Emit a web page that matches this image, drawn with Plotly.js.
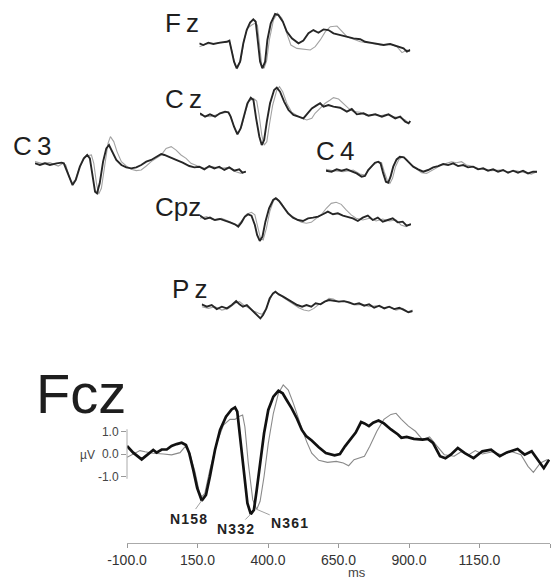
<!DOCTYPE html>
<html>
<head>
<meta charset="utf-8">
<script src="https://cdn.plot.ly/plotly-3.0.1.min.js"></script>
<style>html,body{margin:0;padding:0;background:#fff}#chart{width:553px;height:579px}</style>
</head>
<body>
<div id="chart"></div>
<script>
// ---------- DATA (time in ms, amplitude in µV) ----------
const electrodeNames = ["Fz", "Cz", "C3", "C4", "Cpz", "Pz", "Fcz"];

const fczBlackT = [-100,-78,-48,-24,-7,5,23,41,58,76,94,109,121,135,149,165,180,194,212,230,251,271,283,291,301,312,327,339,350,360,372,386,401,419,437,452,466,484,502,520,535,555,580,605,636,655,673,692,711,730,742,758,773,792,811,836,861,873,892,917,948,967,985,1010,1029,1048,1073,1098,1129,1160,1191,1222,1247,1285,1310,1335,1360,1378,1397];
const fczBlackV = [0.36,0.06,-0.24,0.03,0.18,0.06,0.2,0.2,0.36,0.44,0.5,0.4,0.03,-0.71,-1.52,-2.07,-1.82,-1.0,0.18,1.07,1.66,1.98,2.07,1.88,0.77,-0.71,-2.19,-2.67,-2.49,-1.6,-0.41,0.92,1.96,2.55,2.81,2.7,2.4,2.03,1.59,1.07,0.8,0.6,0.3,0.04,-0.06,0.0,0.34,0.67,0.95,1.42,1.36,1.24,1.39,1.49,1.36,1.09,0.87,0.72,0.76,0.67,0.64,0.67,0.49,-0.1,-0.19,-0.03,0.27,0.04,-0.18,0.12,0.19,-0.1,0.07,0.22,-0.03,0.12,-0.33,-0.63,-0.25];
const fczGreyT = [-100,-78,-54,-36,-7,29,58,88,106,121,141,156,165,176,194,218,242,265,283,295,310,318,330,346,360,372,386,401,419,437,454,472,490,514,537,555,580,611,642,667,686,705,723,742,761,786,811,836,854,873,898,923,948,973,998,1025,1060,1085,1110,1135,1160,1197,1230,1260,1297,1322,1341,1366,1391];
const fczGreyV = [-0.15,0.0,0.15,0.1,0.03,0.0,-0.04,0.06,0.33,0.1,-0.78,-1.67,-1.9,-1.75,-0.7,0.47,1.29,1.54,1.54,1.66,1.73,1.21,-0.4,-2.04,-2.46,-2.1,-1.0,0.47,1.81,2.7,3.07,2.84,2.25,1.36,0.55,0.04,-0.28,-0.37,-0.33,-0.4,-0.52,-0.25,-0.18,-0.1,0.34,1.01,1.54,1.76,1.81,1.54,1.24,1.01,0.64,0.76,0.37,-0.03,-0.1,0.1,-0.05,0.15,0.0,0.1,-0.05,0.12,-0.03,-0.55,-0.82,-0.4,-0.25];

const fzBlackT = [-100,-72,-36,0,47,95,114,131,147,166,190,213,237,261,284,301,316,332,348,368,384,408,439,462,494,522,558,605,640,676,711,747,783,818,854,901,949,996,1044,1079,1115,1163,1210,1257,1305,1352,1376,1400];
const fzBlackV = [0.06,-0.09,0.12,0,0.12,0.2,0.3,-0.53,-1.57,-2.16,-1.57,0.06,1.24,1.9,2.2,1.98,0.36,-1.57,-2.16,-1.57,0.36,1.84,2.67,2.58,1.98,1.1,0.5,0.06,0.3,0.95,1.24,1.0,1.3,1.24,0.95,0.8,0.65,0.5,0.42,0.2,0.12,0,-0.09,0,-0.18,-0.39,-0.68,-0.53];
const fzGreyT = [-100,-48,24,95,114,133,154,171,195,218,242,273,296,313,327,344,360,379,398,427,456,487,522,551,594,641,689,724,760,796,831,879,915,950,998,1045,1116,1187,1258,1305,1341,1376,1400];
const fzGreyV = [-0.24,0,0.06,0.12,0.2,-0.68,-1.87,-2.16,-1.48,0.36,1.39,1.69,1.84,1.69,-0.24,-1.87,-2.16,-1.48,0.36,2.13,2.73,2.28,0.95,-0.09,-0.39,-0.47,-0.53,-0.24,0.36,1.1,1.54,1.6,1.1,0.65,0.42,0.2,0.06,-0.09,0,-0.24,-0.77,-0.53,-0.68];

const czBlackT = [-100,-64,-29,7,42,78,102,118,142,166,189,213,237,261,280,299,322,339,356,375,398,427,446,469,498,529,564,600,635,659,695,726,754,778,813,849,896,944,979,1015,1062,1098,1146,1193,1240,1288,1323,1359,1383,1395];
const czBlackV = [0.15,-0.15,0.06,-0.15,0.15,0.3,0.24,-0.15,-1.04,-1.72,-1.19,0,1.04,1.54,1.33,-0.3,-1.93,-2.67,-2.22,-0.59,1.04,2.22,2.43,2.07,1.19,0.44,0,-0.15,-0.3,0.06,0.59,0.83,1.04,0.74,0.89,0.74,0.65,0.3,0.53,0.06,0.15,-0.06,0.06,-0.15,0.06,-0.3,-0.15,-0.59,-0.74,-0.53];
const czGreyT = [-100,-29,30,90,109,133,156,175,199,223,246,280,303,320,339,356,375,393,417,446,465,488,517,552,588,624,659,695,718,754,790,825,849,885,920,956,991,1039,1086,1134,1181,1229,1276,1323,1359,1383,1395];
const czGreyV = [0,-0.15,0.06,0.24,0.15,-0.74,-1.48,-1.54,-0.89,0.3,1.19,1.48,1.24,0,-1.78,-2.67,-2.37,-0.89,0.89,2.22,2.52,2.07,1.04,0.24,-0.06,-0.3,-0.44,-0.3,0.15,0.59,1.04,1.33,1.54,1.42,1.04,0.59,0.3,0.24,-0.06,0.06,-0.06,0.06,-0.15,-0.24,-0.44,-0.74,-0.59];

const c3BlackT = [-100,-65,-29,6,53,89,105,124,148,167,190,219,247,271,290,308,327,341,360,384,407,426,450,478,514,549,584,620,655,691,726,761,797,820,856,903,950,997,1033,1068,1104,1139,1175,1210,1246,1281,1316,1352,1375,1399];
const c3BlackV = [0.06,-0.09,0.06,-0.09,0.06,0.12,0.06,-0.53,-1.42,-1.87,-1.42,-0.24,0.5,0.8,0.5,-1.13,-2.46,-2.61,-1.72,0.21,1.39,1.69,1.1,0.36,-0.09,-0.3,-0.39,-0.3,-0.09,0.21,0.36,0.59,0.89,0.8,0.59,0.36,0.12,-0.18,-0.3,-0.24,-0.47,-0.18,-0.39,-0.24,-0.53,-0.3,-0.59,-0.47,-0.77,-0.68];
const c3GreyT = [-100,-53,6,65,101,119,143,162,186,214,242,266,301,318,337,353,372,396,419,436,460,483,514,549,584,620,655,691,726,761,797,832,868,903,938,974,1009,1056,1104,1163,1222,1281,1328,1364,1399];
const c3GreyV = [0.21,0.06,0.12,-0.18,0.06,-0.09,-1.13,-1.72,-1.42,-0.39,0.36,0.71,0.8,0.06,-1.72,-2.67,-2.16,-0.24,1.84,2.43,1.99,1.1,0.21,-0.18,-0.47,-0.59,-0.53,-0.18,0.21,0.5,0.8,1.39,1.54,1.24,0.8,0.5,0.06,-0.18,-0.39,-0.24,-0.39,-0.3,-0.68,-0.83,-0.68];

const c4BlackT = [-100,-60,-24,11,47,82,118,153,177,200,224,248,271,288,307,326,342,359,378,402,425,454,484,520,555,591,626,662,697,733,768,804,839,875,910,946,981,1017,1052,1088,1123,1159,1194,1230,1265,1301,1336,1372,1400];
const c4BlackV = [0,-0.09,0.12,0,0.12,-0.09,-0.24,-0.53,-0.47,0.06,0.41,0.71,0.8,0.65,-0.24,-0.98,-1.07,-0.53,0.36,1.0,1.24,1.19,0.8,0.36,0.12,-0.09,0.06,0.3,0.41,0.59,0.5,0.65,0.41,0.5,0.3,0.36,0.12,0.21,0,0.12,-0.09,0.06,-0.18,0,-0.18,0,-0.24,-0.09,-0.09];
const c4GreyT = [-100,-48,23,94,141,177,207,236,271,295,314,335,354,373,394,418,444,473,508,544,579,615,650,686,721,757,792,827,863,898,934,981,1029,1076,1135,1194,1253,1312,1360,1400];
const c4GreyV = [0.12,0,-0.09,0.06,-0.3,-0.39,0.12,0.5,0.8,0.71,-0.09,-0.83,-1.13,-0.68,0.36,1.0,1.24,1.0,0.5,0.12,-0.18,-0.24,0,0.21,0.5,0.65,0.8,0.71,0.8,0.5,0.41,0.21,0.12,0,0.06,-0.09,0,-0.18,-0.3,-0.09];

const cpzBlackT = [-100,-65,-29,6,42,77,113,148,172,195,219,242,266,290,306,325,344,365,391,420,439,462,491,526,561,597,632,668,703,739,774,809,845,880,916,951,987,1022,1057,1093,1128,1164,1199,1235,1270,1305,1341,1369,1400];
const cpzBlackV = [0.24,-0.06,0.06,-0.15,-0.06,-0.24,-0.36,-0.53,-0.74,-0.36,0.15,0.36,0.24,-0.59,-1.48,-2.01,-1.63,-0.3,0.89,1.63,1.78,1.54,1.04,0.44,0.06,-0.15,-0.24,0,0.06,0.15,0.36,0.59,0.36,0.44,0.24,0.15,0,-0.24,0.06,0.24,-0.15,0.06,-0.3,-0.15,0,-0.36,-0.3,-0.65,-0.53];
const cpzGreyT = [-100,-53,-6,54,113,165,195,231,266,290,313,330,349,372,396,424,448,479,514,550,585,620,656,691,727,762,798,833,868,904,939,975,1010,1057,1105,1152,1199,1246,1294,1329,1364,1400];
const cpzGreyV = [0,0.15,-0.15,0,-0.3,-0.65,-0.24,0.36,0.53,0.3,-0.89,-1.78,-1.93,-0.89,0.59,1.63,1.72,1.33,0.65,0.24,-0.06,-0.36,-0.44,-0.36,0,0.3,0.89,1.33,1.42,1.24,0.74,0.3,0,-0.15,0,-0.24,-0.06,-0.24,-0.15,-0.59,-0.74,-0.53];

const pzBlackT = [-100,-64,-29,7,43,79,114,145,169,193,221,245,274,298,317,336,360,383,407,424,448,479,507,543,579,614,645,679,710,745,774,805,840,876,912,948,983,1019,1055,1090,1126,1162,1198,1233,1269,1305,1340,1369,1400];
const pzBlackV = [0.12,-0.09,0.06,-0.3,-0.09,-0.24,0.06,0.41,0.12,-0.09,0.06,-0.24,-0.59,-0.83,-1.13,-0.83,-0.24,0.65,1.1,1.24,1.0,0.8,0.59,0.36,0.06,-0.09,0.06,-0.09,0.21,0.12,0.36,0.5,0.41,0.36,0.41,0.3,0.12,0.21,0,0.12,-0.18,0,-0.24,-0.09,-0.3,-0.18,-0.39,-0.59,-0.47];
const pzGreyT = [-100,-52,-5,43,90,138,169,198,233,269,305,329,352,376,400,424,455,483,519,555,590,626,662,698,733,769,805,836,869,907,948,995,1043,1090,1138,1186,1233,1281,1329,1364,1400];
const pzGreyV = [-0.09,-0.24,-0.09,-0.39,-0.24,0.21,0.36,0.06,-0.18,-0.47,-0.68,-0.77,-0.39,0.36,0.95,1.19,1.0,0.71,0.41,0.12,-0.18,-0.39,-0.47,-0.24,0.12,0.3,0.65,0.59,0.36,0.41,0.21,0.06,0.12,-0.09,0,-0.18,-0.09,-0.39,-0.24,-0.53,-0.39];

const peakNames = ["N158", "N332", "N361"];
const peakT = [165, 339, 360];
const peakV = [-2.07, -2.67, -2.46];

const xTickVals = [-100, 150, 400, 650, 900, 1150, 1400];
const xTickText = ["-100.0", "150.0", "400.0", "650.0", "900.0", "1150.0", ""];
const yTickVals = [-1, 0, 1];
const yTickText = ["-1.0", "0.0", "1.0"];

// ---------- LAYOUT GEOMETRY (pixels) ----------
const W = 553, H = 579;
const FONT = "Liberation Sans, Arial, Helvetica, sans-serif";
const fx = px => px / W;
const fy = py => 1 - py / H;

const small = [
  {name: "Fz",  bT: fzBlackT,  bV: fzBlackV,  gT: fzGreyT,  gV: fzGreyV,  x0: 199.3, y0: 44,    lx: 163, ly: 22.5},
  {name: "Cz",  bT: czBlackT,  bV: czBlackV,  gT: czGreyT,  gV: czGreyV,  x0: 200,   y0: 115,   lx: 163, ly: 99},
  {name: "C3",  bT: c3BlackT,  bV: c3BlackV,  gT: c3GreyT,  gV: c3GreyV,  x0: 35,    y0: 164,   lx: 11,  ly: 146},
  {name: "C4",  bT: c4BlackT,  bV: c4BlackV,  gT: c4GreyT,  gV: c4GreyV,  x0: 326,   y0: 170.7, lx: 314, ly: 151},
  {name: "Cpz", bT: cpzBlackT, bV: cpzBlackV, gT: cpzGreyT, gV: cpzGreyV, x0: 200,   y0: 218.3, lx: 153, ly: 207},
  {name: "Pz",  bT: pzBlackT,  bV: pzBlackV,  gT: pzGreyT,  gV: pzGreyV,  x0: 201.7, y0: 305.7, lx: 170, ly: 289}
];
const spacedName = {Fz: "F\u2009z", Cz: "C\u2009z", C3: "C\u20093", C4: "C\u20094", Cpz: "Cpz", Pz: "P\u2009z"};

const SW = 211, SPX = 11.25, SHALF = 40;

const traces = [];
const layout = {
  width: W, height: H,
  margin: {l: 0, r: 0, t: 0, b: 0},
  paper_bgcolor: "#ffffff",
  plot_bgcolor: "rgba(0,0,0,0)",
  showlegend: false,
  font: {family: FONT, color: "#222"},
  annotations: [],
  shapes: []
};

// main Fcz panel (axis 1)
const MX0 = 127, MX1 = 550, MZERO = 454, MPX = 22.5, MTOP = 380, MBOT = 543;
traces.push({x: fczGreyT, y: fczGreyV, xaxis: "x", yaxis: "y", type: "scatter", mode: "lines",
  line: {color: "#8a8a8a", width: 1.1}, hoverinfo: "skip"});
traces.push({x: fczBlackT, y: fczBlackV, xaxis: "x", yaxis: "y", type: "scatter", mode: "lines",
  line: {color: "#111", width: 2.7}, hoverinfo: "skip"});
layout.xaxis = {
  domain: [fx(MX0), fx(MX1)], range: [-100, 1400], anchor: "y",
  tickmode: "array", tickvals: xTickVals, ticktext: xTickText,
  ticks: "outside", ticklen: 4, tickcolor: "#999", showline: true, linecolor: "#aaa", linewidth: 1,
  showgrid: false, zeroline: false, tickfont: {size: 14, color: "#333", family: FONT}, fixedrange: true
};
layout.yaxis = {
  domain: [fy(MBOT), fy(MTOP)], range: [(MZERO - MBOT) / MPX, (MZERO - MTOP) / MPX], anchor: "x",
  tickmode: "array", tickvals: yTickVals, ticktext: yTickText,
  ticks: "outside", ticklen: 5, tickcolor: "#999", showline: false,
  showgrid: false, zeroline: false, tickfont: {size: 12, color: "#444", family: FONT}, fixedrange: true
};
layout.shapes.push({type: "line", xref: "x domain", yref: "y", x0: 0, x1: 0,
  y0: yTickVals[0] - 0.1, y1: yTickVals[yTickVals.length - 1] + 0.1, line: {color: "#aaa", width: 1}});

// small electrode panels (axes 2..7)
small.forEach((p, i) => {
  const n = i + 2;
  const xa = "x" + n, ya = "y" + n;
  traces.push({x: p.gT, y: p.gV, xaxis: xa, yaxis: ya, type: "scatter", mode: "lines",
    line: {color: "#a3a3a3", width: 1.1}, hoverinfo: "skip"});
  traces.push({x: p.bT, y: p.bV, xaxis: xa, yaxis: ya, type: "scatter", mode: "lines",
    line: {color: "#262626", width: 1.9}, hoverinfo: "skip"});
  layout["xaxis" + n] = {domain: [fx(p.x0), fx(p.x0 + SW)], range: [-100, 1400], anchor: ya, visible: false, fixedrange: true};
  layout["yaxis" + n] = {domain: [fy(p.y0 + SHALF), fy(p.y0 - SHALF)], range: [-SHALF / SPX, SHALF / SPX], anchor: xa, visible: false, fixedrange: true};
  layout.annotations.push({xref: "paper", yref: "paper", x: fx(p.lx), y: fy(p.ly), xanchor: "left", yanchor: "middle",
    text: spacedName[p.name], showarrow: false, font: {size: 26, color: "#1e1e1e", family: FONT}});
});

// Fcz big label
layout.annotations.push({xref: "paper", yref: "paper", x: fx(34), y: fy(393), xanchor: "left", yanchor: "middle",
  text: electrodeNames[6], showarrow: false, font: {size: 56, color: "#1e1e1e", family: FONT}});
// unit labels
layout.annotations.push({xref: "paper", yref: "paper", x: fx(87), y: fy(455), xanchor: "center", yanchor: "middle",
  text: "µV", showarrow: false, font: {size: 12, color: "#444", family: FONT}});
layout.annotations.push({xref: "paper", yref: "paper", x: fx(357), y: fy(572), xanchor: "center", yanchor: "middle",
  text: "ms", showarrow: false, font: {size: 13, color: "#444", family: FONT}});

// peak labels
const peakOffsets = [[-13, 18], [-15, 15], [33, 14]];
peakNames.forEach((nm, i) => {
  layout.annotations.push({xref: "x", yref: "y", x: peakT[i], y: peakV[i],
    ax: peakOffsets[i][0], ay: peakOffsets[i][1], showarrow: true, arrowhead: 0, arrowwidth: 0.8,
    arrowcolor: "#888", standoff: 0,
    text: "<b>" + nm.split("").join("\u200A") + "</b>",
    font: {size: 14, color: "#222", family: FONT}});
});

Plotly.newPlot("chart", traces, layout, {staticPlot: true, displayModeBar: false});
</script>
</body>
</html>
